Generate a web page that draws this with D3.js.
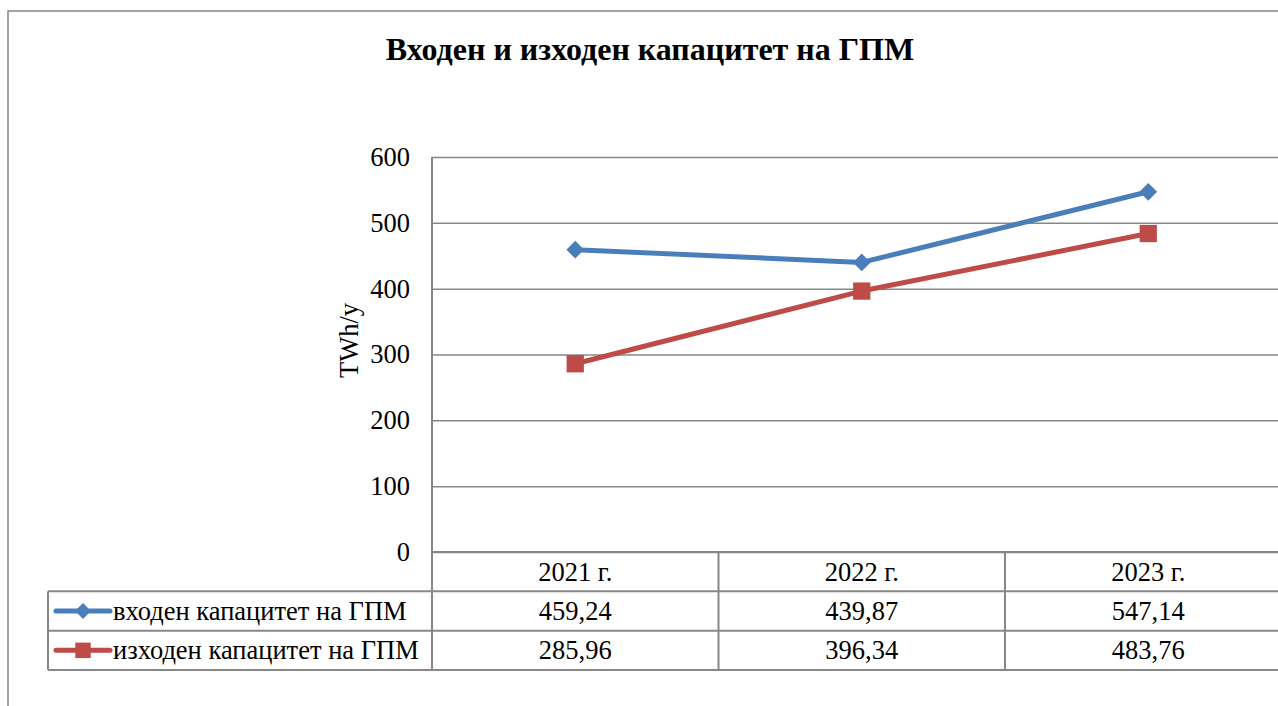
<!DOCTYPE html>
<html>
<head>
<meta charset="utf-8">
<script src="https://cdn.jsdelivr.net/npm/d3@7"></script>
<style>
  body { margin: 0; background: #fff; }
  text { font-family: "Liberation Serif", "Times New Roman", serif; fill: #000; }
  .chart-title { font-size: 32px; font-weight: bold; }
  .tick text { font-size: 26.5px; }
  .cell { font-size: 26.5px; }
</style>
</head>
<body>
<svg width="1278" height="706"></svg>
<script>
const categories = ['2021 г.', '2022 г.', '2023 г.'];
const seriesNames = ['входен капацитет на ГПМ', 'изходен капацитет на ГПМ'];
const inputValues = [459.24, 439.87, 547.14];
const outputValues = [285.96, 396.34, 483.76];
const yTicks = [0, 100, 200, 300, 400, 500, 600];
const colors = ['#4A7EBB', '#BE4B48'];

const series = [
    { name: seriesNames[0], values: inputValues, color: colors[0], symbol: d3.symbolDiamond2, size: 200 },
    { name: seriesNames[1], values: outputValues, color: colors[1], symbol: d3.symbolSquare2, size: 380 }
];

const svg = d3.select('svg');
const width = +svg.attr('width');
const height = +svg.attr('height');
const gridColor = '#878787';
const fmt = (v) => v.toFixed(2).replace('.', ',');

const plot = { left: 432, top: 157, bottom: 552, bandW: 286.5 };
const tableLeft = 48;

// outer chart frame (only left and top edges are in view)
svg.append('path')
    .attr('d', `M8,${height} V11 H${width}`)
    .attr('fill', 'none')
    .attr('stroke', gridColor)
    .attr('stroke-width', 1.5);

svg.append('text')
    .attr('class', 'chart-title')
    .attr('x', 650)
    .attr('y', 60)
    .attr('text-anchor', 'middle')
    .text('Входен и изходен капацитет на ГПМ');

const xScale = d3.scaleBand()
    .domain(categories)
    .range([plot.left, plot.left + plot.bandW * categories.length]);

const yScale = d3.scaleLinear()
    .domain([0, 600])
    .range([plot.bottom, plot.top]);

// gridlines + tick labels
const yAxisG = svg.append('g')
    .attr('transform', `translate(${plot.left},0)`)
    .call(d3.axisLeft(yScale).tickValues(yTicks).tickSize(-(width - plot.left)).tickPadding(22));

yAxisG.select('.domain').remove();
yAxisG.selectAll('.tick line')
    .attr('stroke', gridColor)
    .attr('stroke-width', 1.5);

svg.append('text')
    .attr('class', 'cell')
    .attr('transform', `translate(358, ${yScale(300) - 14}) rotate(-90)`)
    .attr('text-anchor', 'middle')
    .text('TWh/y');

// data table
const rowScale = d3.scaleBand()
    .domain(['header', ...seriesNames])
    .range([plot.bottom, 670]);

const tableG = svg.append('g');

// horizontal table lines
const hLines = [plot.bottom, ...seriesNames.map((n) => rowScale(n)), rowScale.range()[1]];
tableG.selectAll('line.h')
    .data(hLines)
    .enter()
    .append('line')
    .attr('x1', (d, i) => (i === 0 ? plot.left : tableLeft))
    .attr('x2', width)
    .attr('y1', (d) => d)
    .attr('y2', (d) => d)
    .attr('stroke', gridColor)
    .attr('stroke-width', 2);

// vertical table lines
tableG.append('line')
    .attr('x1', plot.left).attr('x2', plot.left)
    .attr('y1', plot.top).attr('y2', rowScale.range()[1])
    .attr('stroke', gridColor).attr('stroke-width', 2);

tableG.append('line')
    .attr('x1', tableLeft).attr('x2', tableLeft)
    .attr('y1', rowScale(seriesNames[0])).attr('y2', rowScale.range()[1])
    .attr('stroke', gridColor).attr('stroke-width', 2);

tableG.selectAll('line.v')
    .data(categories.slice(1))
    .enter()
    .append('line')
    .attr('x1', (d) => xScale(d)).attr('x2', (d) => xScale(d))
    .attr('y1', plot.bottom).attr('y2', rowScale.range()[1])
    .attr('stroke', gridColor).attr('stroke-width', 2);

// header cells
tableG.selectAll('text.head')
    .data(categories)
    .enter()
    .append('text')
    .attr('class', 'cell')
    .attr('x', (d) => xScale(d) + xScale.bandwidth() / 2)
    .attr('y', rowScale('header') + rowScale.bandwidth() / 2 + 9)
    .attr('text-anchor', 'middle')
    .text((d) => d);

// value rows
series.forEach((s) => {
    const rowY = rowScale(s.name) + rowScale.bandwidth() / 2;
    tableG.selectAll(null)
        .data(s.values)
        .enter()
        .append('text')
        .attr('class', 'cell')
        .attr('x', (d, i) => xScale(categories[i]) + xScale.bandwidth() / 2)
        .attr('y', rowY + 9)
        .attr('text-anchor', 'middle')
        .text((d) => fmt(d));

    // legend key
    tableG.append('line')
        .attr('x1', 56).attr('x2', 110)
        .attr('y1', rowY).attr('y2', rowY)
        .attr('stroke', s.color).attr('stroke-width', 5).attr('stroke-linecap', 'round');
    tableG.append('path')
        .attr('d', d3.symbol().type(s.symbol).size(s.size * 0.8)())
        .attr('transform', `translate(83,${rowY})`)
        .attr('fill', s.color);
    tableG.append('text')
        .attr('class', 'cell')
        .attr('x', 113)
        .attr('y', rowY + 9)
        .text(s.name);
});

// series lines + markers
const line = d3.line()
    .x((d, i) => xScale(categories[i]) + xScale.bandwidth() / 2)
    .y((d) => yScale(d));

series.forEach((s) => {
    svg.append('path')
        .datum(s.values)
        .attr('d', line)
        .attr('fill', 'none')
        .attr('stroke', s.color)
        .attr('stroke-width', 5)
        .attr('stroke-linejoin', 'round');

    svg.selectAll(null)
        .data(s.values)
        .enter()
        .append('path')
        .attr('d', d3.symbol().type(s.symbol).size(s.size)())
        .attr('transform', (d, i) => `translate(${xScale(categories[i]) + xScale.bandwidth() / 2},${yScale(d)})`)
        .attr('fill', s.color);
});
</script>
</body>
</html>
